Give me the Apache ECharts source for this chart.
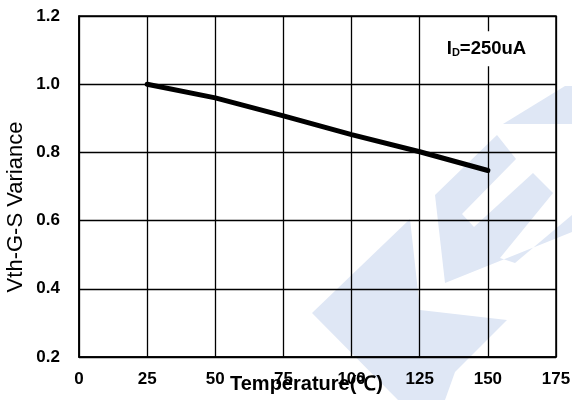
<!DOCTYPE html>
<html>
<head>
<meta charset="utf-8">
<script src="https://cdn.jsdelivr.net/npm/echarts@6/dist/echarts.min.js"></script>
<style>
  html, body { margin: 0; padding: 0; background: #fff; }
  #chart { width: 572px; height: 400px; }
</style>
</head>
<body>
<div id="chart"></div>
<script>
// Threshold voltage variance vs. junction temperature
const temperature = [25, 50, 75, 100, 125, 150];
const vthVariance = [1.0, 0.96, 0.907, 0.852, 0.802, 0.747];

const xTicks = { min: 0, max: 175, interval: 25 };
const yTicks = { min: 0.2, max: 1.2, interval: 0.2 };

const xAxisTitle = 'Temperature(\u2103)';
const yAxisTitle = 'Vth-G-S Variance';
const conditionLabel = ['I', 'D', '=250uA'];

// light blue logo watermark behind the plot (pixel outlines)
const logoShapes = [
  [[410,219],[312,313],[398,400],[445,400],[455,372],[507,320],[420,310]],
  [[497,135],[516,159],[462,214],[474,227],[533,173],[553,193],[500,258],[515,263],[572,215],[572,232],[445,283],[435,195]],
  [[503,124],[565,86],[572,86],[572,124]]
];
const logoColor = '#dfe7f5';

const font = '"Liberation Sans", Arial, Helvetica, sans-serif';

const chart = echarts.init(document.getElementById('chart'), null, { renderer: 'canvas' });

const graphics = logoShapes.map(pts => ({
  type: 'polygon',
  silent: true,
  z: -10,
  shape: { points: pts },
  style: { fill: logoColor }
}));

chart.setOption({
  animation: false,
  backgroundColor: '#fff',
  grid: {
    left: 79, right: 16, top: 16, bottom: 43,
    outerBoundsMode: 'none',
    containLabel: false,
    show: true, borderColor: '#000', borderWidth: 1.5,
    backgroundColor: 'transparent', z: 1
  },
  graphic: graphics,
  xAxis: {
    type: 'value',
    min: xTicks.min, max: xTicks.max, interval: xTicks.interval,
    z: 2,
    name: xAxisTitle,
    nameLocation: 'middle',
    nameGap: 17,
    nameMoveOverlap: false,
    nameTextStyle: {
      fontFamily: font,
      fontWeight: 'bold', fontSize: 20, color: '#000',
      padding: [0, 22, 0, 0]
    },
    axisLine: { show: true, lineStyle: { color: '#000', width: 1.5 } },
    axisTick: { show: false },
    splitLine: { show: true, lineStyle: { color: '#000', width: 1.3 } },
    axisLabel: {
      margin: 14, fontFamily: font, fontWeight: 'bold', fontSize: 17, color: '#000'
    }
  },
  yAxis: {
    type: 'value',
    min: yTicks.min, max: yTicks.max, interval: yTicks.interval,
    z: 2,
    name: yAxisTitle,
    nameLocation: 'middle',
    nameGap: 52,
    nameMoveOverlap: false,
    nameTextStyle: {
      fontFamily: font,
      fontSize: 22, color: '#000',
      padding: [0, 41, 0, 0]
    },
    axisLine: { show: true, lineStyle: { color: '#000', width: 1.5 } },
    axisTick: { show: false },
    splitLine: { show: true, lineStyle: { color: '#000', width: 1.3 } },
    axisLabel: {
      margin: 19, fontFamily: font, fontWeight: 'bold', fontSize: 17, color: '#000',
      formatter: v => v.toFixed(1)
    }
  },
  series: [{
    type: 'line',
    z: 5,
    data: temperature.map((t, i) => [t, vthVariance[i]]),
    symbol: 'none',
    lineStyle: { color: '#000', width: 5, cap: 'round' },
    markPoint: {
      symbol: 'rect',
      symbolSize: [92, 35],
      itemStyle: { color: '#fff' },
      data: [{
        coord: [149.5, 1.104],
        label: {
          show: true,
          formatter: '{a|' + conditionLabel[0] + '}{b|' + conditionLabel[1] + '}{a|' + conditionLabel[2] + '}',
          rich: {
            a: { fontFamily: font, fontWeight: 'bold', fontSize: 18.5, color: '#000' },
            b: { fontFamily: font, fontWeight: 'bold', fontSize: 11, color: '#000', padding: [9, 0, 0, 0] }
          }
        }
      }]
    }
  }]
});
</script>
</body>
</html>
